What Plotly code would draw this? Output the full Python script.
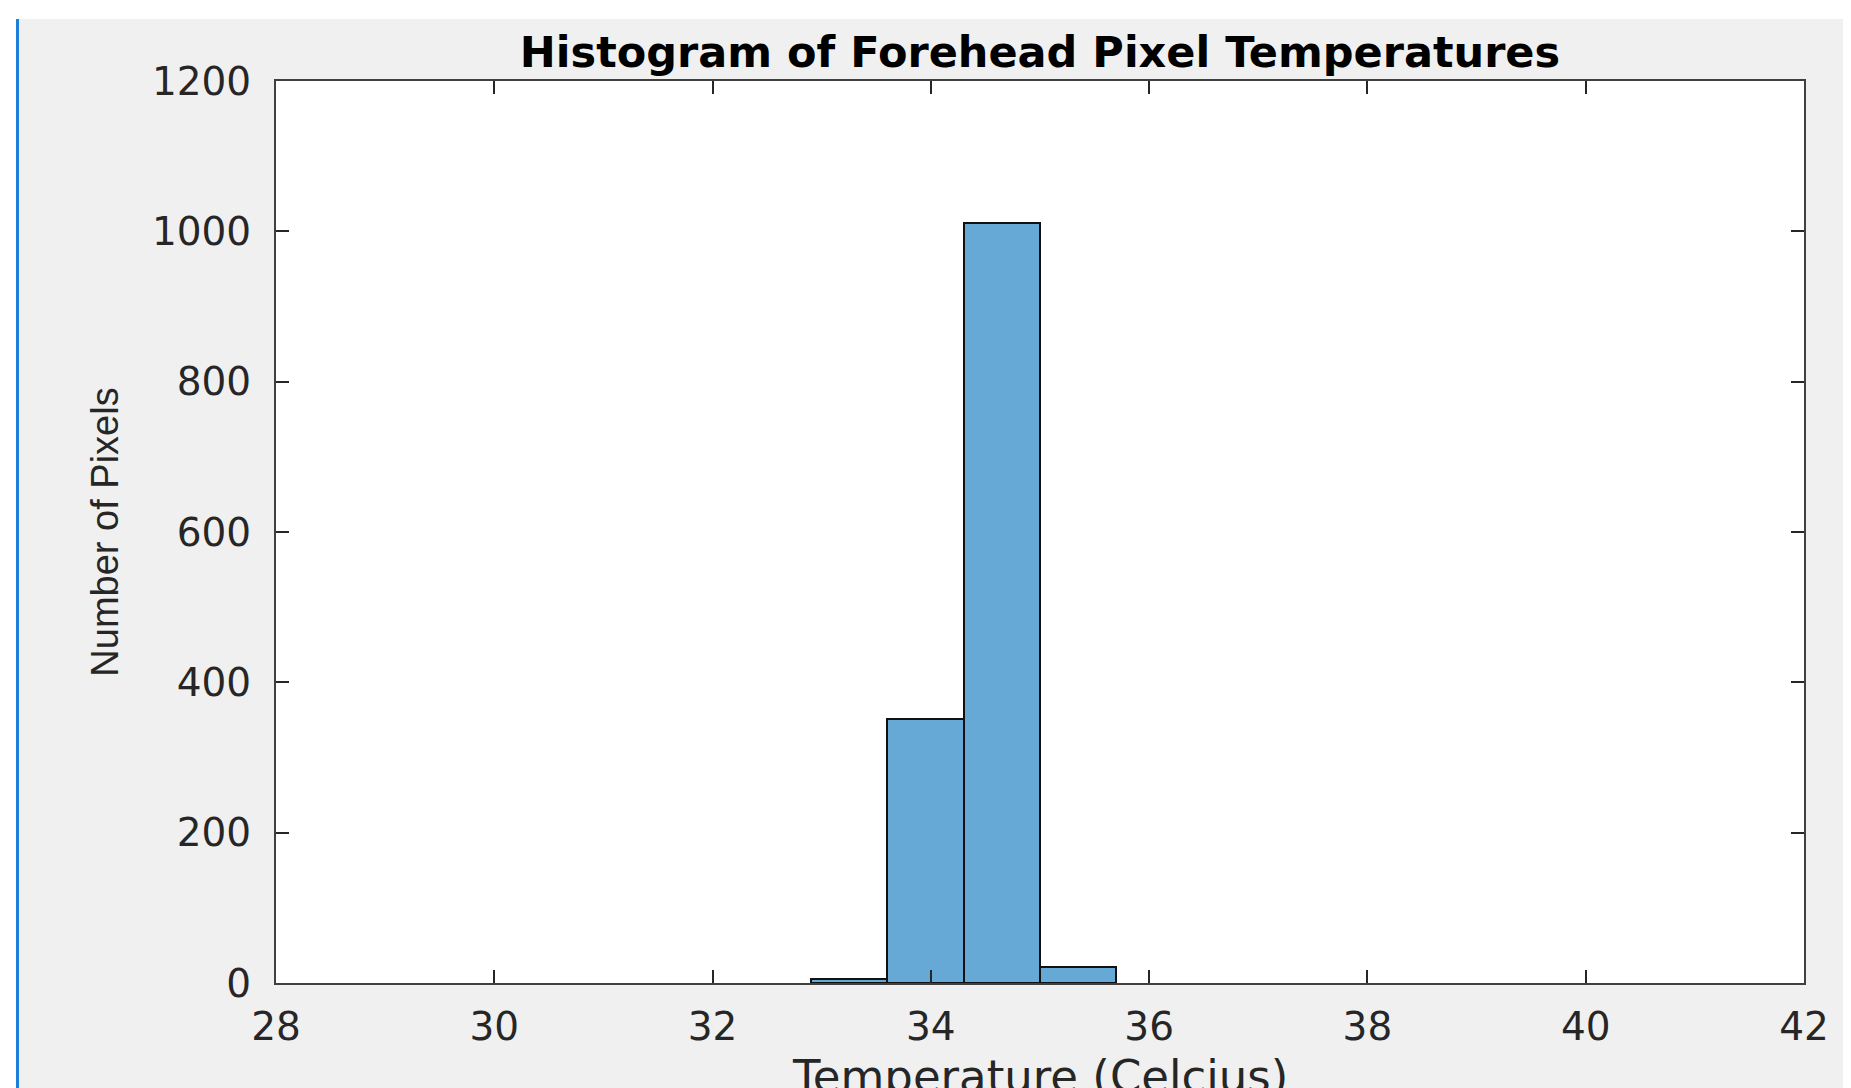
import plotly.graph_objects as go

# ---- data ----
bin_edges = [32.9, 33.6, 34.3, 35.0, 35.7]
counts = [5, 351, 1011, 21]
x_ticks = [28, 30, 32, 34, 36, 38, 40, 42]
y_ticks = [0, 200, 400, 600, 800, 1000, 1200]

centers = [(a + b) / 2 for a, b in zip(bin_edges[:-1], bin_edges[1:])]
widths = [b - a for a, b in zip(bin_edges[:-1], bin_edges[1:])]

# the page body adds an 8px offset; figure is placed at (8, 8)
W, H = 1843, 1080
L, R, T, B = 268, 47, 73, 105
PW, PH = W - L - R, H - T - B

def px2paper_x(px):
    return (px - L) / PW

def px2paper_y(py):
    return (H - B - py) / PH

AX = "#262626"

fig = go.Figure()
fig.add_trace(go.Bar(
    x=centers, y=counts, width=widths,
    marker=dict(color="#66A9D6", line=dict(color="#111111", width=2)),
    showlegend=False, hoverinfo="x+y",
))

axis_common = dict(
    showline=True, linecolor="#404040", linewidth=2, mirror="ticks",
    ticks="inside", ticklen=13, tickwidth=2, tickcolor=AX,
    showgrid=False, zeroline=False,
    tickfont=dict(family="DejaVu Sans", size=39, color=AX),
)

fig.update_layout(
    width=W, height=H,
    margin=dict(l=L, r=R, t=T, b=B, autoexpand=False),
    paper_bgcolor="#F0F0F0", plot_bgcolor="white",
    title=dict(text="<b>Histogram of Forehead Pixel Temperatures</b>",
               font=dict(family="DejaVu Sans", size=43, color="black"),
               x=0.5, xref="paper", xanchor="center",
               y=1 - 44 / H, yref="container", yanchor="middle"),
    xaxis=dict(range=[28, 42], tickvals=x_ticks, ticktext=[str(v) for v in x_ticks],
               ticklabelstandoff=8, automargin=False, **axis_common),
    yaxis=dict(range=[0, 1200], tickvals=y_ticks, ticktext=[str(v) for v in y_ticks],
               title=dict(text="Number of Pixels",
                          font=dict(family="Liberation Sans", size=38, color=AX), standoff=22),
               ticklabelstandoff=15, automargin=False, **axis_common),
    bargap=0,
    annotations=[
        # x-axis title (partly cut by the bottom edge, as in the reference)
        dict(text="Temperature (Celcius)", xref="paper", yref="paper",
             x=0.5, y=px2paper_y(1068), xanchor="center", yanchor="middle",
             showarrow=False, font=dict(family="DejaVu Sans", size=45, color=AX)),
    ],
    shapes=[
        # white strip at the top of the page
        dict(type="rect", xref="paper", yref="paper", layer="below",
             x0=px2paper_x(0), x1=px2paper_x(W), y0=px2paper_y(11), y1=px2paper_y(0),
             fillcolor="white", line=dict(width=0)),
        # white strip on the left
        dict(type="rect", xref="paper", yref="paper", layer="below",
             x0=px2paper_x(0), x1=px2paper_x(8), y0=px2paper_y(H), y1=px2paper_y(0),
             fillcolor="white", line=dict(width=0)),
        # blue vertical line at left edge
        dict(type="rect", xref="paper", yref="paper", layer="below",
             x0=px2paper_x(8), x1=px2paper_x(11), y0=px2paper_y(H), y1=px2paper_y(11),
             fillcolor="#1E7FD8", line=dict(width=0)),
    ],
)

fig.write_html("out.html")
